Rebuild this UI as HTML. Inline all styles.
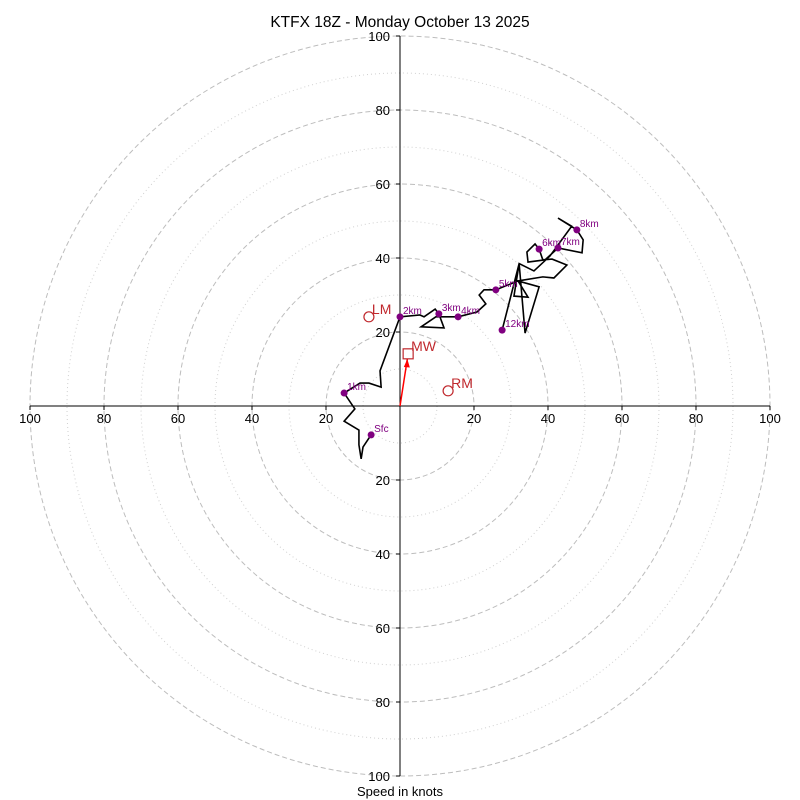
<!DOCTYPE html>
<html><head><meta charset="utf-8"><style>
body{margin:0;background:#fff}
svg{display:block;font-family:"Liberation Sans","DejaVu Sans",sans-serif}
</style></head><body>
<svg id="chart" width="800" height="800" viewBox="0 0 800 800">
<text x="400" y="27" text-anchor="middle" font-size="15.5">KTFX 18Z - Monday October 13 2025</text>
<text x="400" y="796" text-anchor="middle" font-size="13">Speed in knots</text>
<g id="rings"></g><g id="axes"></g><g id="trace"></g><g id="marks"></g>
</svg>
<script>
const ringValues=[10,20,30,40,50,60,70,80,90,100];
const tickValues=[20,40,60,80,100];
const traceU=[-7.8,-10.0,-10.5,-11.1,-11.1,-15.1,-12.2,-15.1,-10.8,-8.4,-5.1,-5.4,0,5.4,6.5,9.5,10.5,11.9,5.7,9.7,15.7,20.8,23.2,21.4,22.7,25.9,31.9,38.6,41.6,45.1,41.1,38.6,37.6,36.5,34.3,34.6,39.2,42.7,49.2,49.5,47.8,42.7,46.4,40.5,36.2,32.2,30.8,34.6,31.9,37.6,33.8,32.2,27.6];
const traceV=[-7.8,-11.1,-14.3,-10.5,-6.5,-4.1,-0.8,3.5,6.2,6.2,5.1,9.5,24.1,24.6,24.1,26.2,24.9,21.1,21.4,24.1,24.1,25.4,27.6,30.0,31.4,31.4,33.8,34.9,34.6,38.1,39.7,39.5,42.4,43.8,41.6,38.9,39.5,42.7,41.4,44.9,47.6,50.8,48.6,40.5,36.5,38.5,29.7,29.4,33.8,32.2,19.7,38.5,20.5];
const hgtLabels=["Sfc","1km","2km","3km","4km","5km","6km","7km","8km","12km"];
const hgtU=[-7.8,-15.1,0,10.5,15.7,25.9,37.6,42.7,47.8,27.6];
const hgtV=[-7.8,3.5,24.1,24.9,24.1,31.4,42.4,42.7,47.6,20.5];
const motionLabels=["LM","RM","MW"];
const motionU=[-8.4,13.0,2.2];
const motionV=[24.1,4.1,14.1];

const NS="http://www.w3.org/2000/svg";
const cx=400,cy=406,R=370,maxV=100;
const sx=u=>cx+u*R/maxV, sy=v=>cy-v*R/maxV, sr=r=>r*R/maxV;
function mk(tag,attrs,parent,text){const e=document.createElementNS(NS,tag);for(const k in attrs)e.setAttribute(k,attrs[k]);if(text!==undefined)e.textContent=text;parent.appendChild(e);return e;}
const rings=document.getElementById('rings'),axes=document.getElementById('axes'),trace=document.getElementById('trace'),marks=document.getElementById('marks');
ringValues.forEach(r=>{
 const major=r%20===0;
 const c=mk('circle',{cx:cx,cy:cy,r:sr(r),fill:'none',stroke:major?'#bdbdbd':'#d0d0d0','stroke-width':1,'stroke-dasharray':major?'5,3':'1,3'},rings);
 
 
});
let a=mk('line',{x1:sx(-100),y1:cy,x2:sx(100),y2:cy,stroke:'#000','stroke-width':1},axes);


a=mk('line',{x1:cx,y1:sy(100),x2:cx,y2:sy(-100),stroke:'#000','stroke-width':1},axes);


tickValues.forEach(t=>{
 [-1,1].forEach(s=>{
  let l=mk('line',{x1:sx(s*t),y1:cy,x2:sx(s*t),y2:cy+4,stroke:'#000'},axes);
  
  
  let tx=mk('text',{x:sx(s*t),y:cy+17,'text-anchor':'middle','font-size':13},axes,String(t));
  
  
  l=mk('line',{x1:cx-4,y1:sy(s*t),x2:cx,y2:sy(s*t),stroke:'#000'},axes);
  
  
  tx=mk('text',{x:cx-10,y:sy(s*t)+5,'text-anchor':'end','font-size':13},axes,String(t));
  
  
 });
});
const pts=traceU.map((u,i)=>sx(u)+','+sy(traceV[i])).join(' ');
const pl=mk('polyline',{points:pts,fill:'none',stroke:'#000','stroke-width':1.6,'stroke-linejoin':'miter'},trace);


hgtLabels.forEach((lab,i)=>{
 const d=mk('circle',{cx:sx(hgtU[i]),cy:sy(hgtV[i]),r:3.5,fill:'#800080'},marks);
 
 
 const t=mk('text',{x:sx(hgtU[i])+3,y:sy(hgtV[i])-3,'font-size':10,fill:'#800080'},marks,lab);
 
 
});
// mean wind arrow
const ar=mk('line',{x1:cx,y1:cy,x2:sx(motionU[2]*0.9),y2:sy(motionV[2]*0.9),stroke:'#ff0000','stroke-width':1.5},marks);


const hx=sx(motionU[2]*0.9),hy=sy(motionV[2]*0.9);
const ah=mk('polygon',{points:`${hx},${hy} ${hx-3.5},${hy+8} ${hx+2.5},${hy+8.5}`,fill:'#ff0000'},marks);


motionLabels.forEach((lab,i)=>{
 const x=sx(motionU[i]),y=sy(motionV[i]);
 let s;
 if(lab==='MW') s=mk('rect',{x:x-5,y:y-5,width:10,height:10,fill:'none',stroke:'#c0282d','stroke-width':1.2},marks);
 else s=mk('circle',{cx:x,cy:y,r:5,fill:'none',stroke:'#c0282d','stroke-width':1.2},marks);
 
 
 const t=mk('text',{x:x+3,y:y-3,'font-size':14,fill:'#c0282d'},marks,lab);
 
 
});
</script>
</body></html>
